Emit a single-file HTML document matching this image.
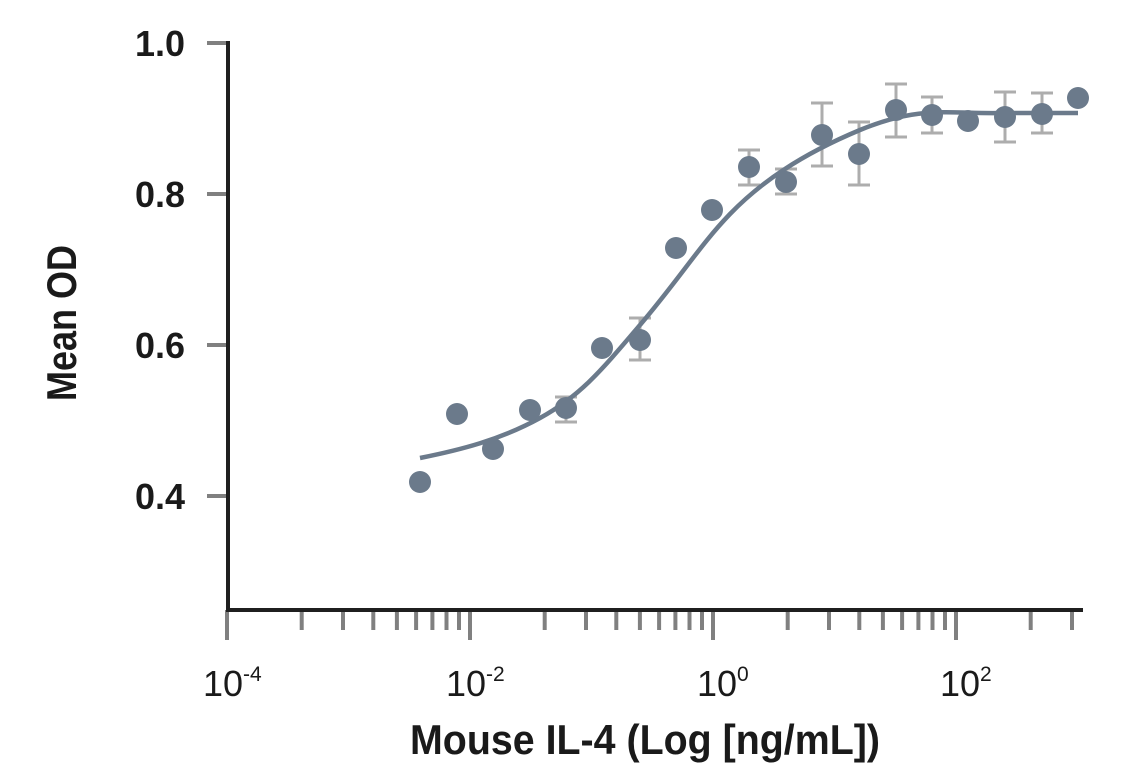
<!DOCTYPE html>
<html><head><style>
body{margin:0;background:#fff}
svg text{font-family:"Liberation Sans",Arial,sans-serif;font-weight:bold;fill:#1a1a1a}
</style></head><body>
<svg width="1141" height="768" viewBox="0 0 1141 768">
<g stroke="#808080" stroke-width="4">
<line x1="207" y1="43" x2="227" y2="43"/><line x1="207" y1="194" x2="227" y2="194"/>
<line x1="207" y1="345" x2="227" y2="345"/><line x1="207" y1="496" x2="227" y2="496"/>
<line x1="227" y1="610" x2="227" y2="640"/><line x1="470" y1="610" x2="470" y2="640"/>
<line x1="713" y1="610" x2="713" y2="640"/><line x1="956" y1="610" x2="956" y2="640"/>
<g id="m">
<line x1="301.7" y1="610" x2="301.7" y2="630"/><line x1="343" y1="610" x2="343" y2="630"/>
<line x1="373.3" y1="610" x2="373.3" y2="630"/><line x1="396.9" y1="610" x2="396.9" y2="630"/>
<line x1="416.1" y1="610" x2="416.1" y2="630"/><line x1="432.4" y1="610" x2="432.4" y2="630"/>
<line x1="446.5" y1="610" x2="446.5" y2="630"/><line x1="459" y1="610" x2="459" y2="630"/>
</g>
<use href="#m" x="243"/><use href="#m" x="486"/>
<line x1="1030.7" y1="610" x2="1030.7" y2="630"/><line x1="1072" y1="610" x2="1072" y2="630"/>
</g>
<g stroke="#1f1f1f" stroke-width="4">
<line x1="228" y1="41" x2="228" y2="612"/>
<line x1="226" y1="610" x2="1083" y2="610"/>
</g>
<g font-size="36" style="font-weight:normal">
<text x="135" y="56" textLength="50" lengthAdjust="spacingAndGlyphs">1.0</text>
<text x="135" y="207" textLength="50" lengthAdjust="spacingAndGlyphs">0.8</text>
<text x="135" y="358" textLength="50" lengthAdjust="spacingAndGlyphs">0.6</text>
<text x="135" y="509" textLength="50" lengthAdjust="spacingAndGlyphs">0.4</text>
</g>
<g font-size="36">
<text x="203" y="696" style="font-weight:normal">10<tspan font-size="21" dy="-15">-4</tspan></text>
<text x="446" y="696" style="font-weight:normal">10<tspan font-size="21" dy="-15">-2</tspan></text>
<text x="697" y="696" style="font-weight:normal">10<tspan font-size="21" dy="-15">0</tspan></text>
<text x="940" y="696" style="font-weight:normal">10<tspan font-size="21" dy="-15">2</tspan></text>
</g>
<text x="645" y="754" font-size="42" text-anchor="middle" textLength="470" lengthAdjust="spacingAndGlyphs">Mouse IL-4 (Log [ng/mL])</text>
<text transform="translate(76,323) rotate(-90)" font-size="42" text-anchor="middle" textLength="156" lengthAdjust="spacingAndGlyphs">Mean OD</text>
<g stroke="#adadad" stroke-width="3">
<path d="M566 397V422M555 397H577M555 422H577"/>
<path d="M640 318V360M629 318H651M629 360H651"/>
<path d="M749 150V185M738 150H760M738 185H760"/>
<path d="M786 169V194M775 169H797M775 194H797"/>
<path d="M822 103V166M811 103H833M811 166H833"/>
<path d="M859 122V185M848 122H870M848 185H870"/>
<path d="M896 84V137M885 84H907M885 137H907"/>
<path d="M932 97V133M921 97H943M921 133H943"/>
<path d="M1005 92V142M994 92H1016M994 142H1016"/>
<path d="M1042 93V133M1031 93H1053M1031 133H1053"/>
</g>
<path d="M420 458 C460 450,500 440,540 418 S600 372,640 325 S700 245,730 214 S800 155,860 130 S950 114,1000 113 L1078 113" fill="none" stroke="#6b7a8b" stroke-width="4.5"/>
<g fill="#6b7a8b">
<circle cx="420" cy="482" r="11"/><circle cx="457" cy="414" r="11"/><circle cx="493" cy="449" r="11"/>
<circle cx="530" cy="410" r="11"/><circle cx="566" cy="408" r="11"/><circle cx="602" cy="348" r="11"/>
<circle cx="640" cy="340" r="11"/><circle cx="676" cy="248" r="11"/><circle cx="712" cy="210" r="11"/>
<circle cx="749" cy="167" r="11"/><circle cx="786" cy="182" r="11"/><circle cx="822" cy="135" r="11"/>
<circle cx="859" cy="154" r="11"/><circle cx="896" cy="110" r="11"/><circle cx="932" cy="115" r="11"/>
<circle cx="968" cy="121" r="11"/><circle cx="1005" cy="117" r="11"/><circle cx="1042" cy="114" r="11"/>
<circle cx="1078" cy="98" r="11"/>
</g>
</svg>
</body></html>
